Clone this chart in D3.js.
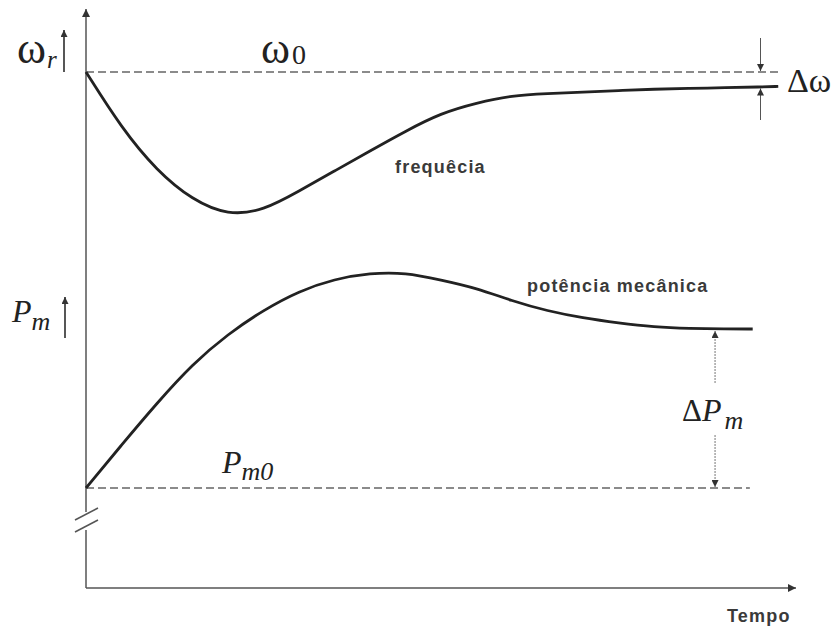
<!DOCTYPE html>
<html>
<head>
<meta charset="utf-8">
<script src="https://cdn.jsdelivr.net/npm/d3@7"></script>
<style>
  body { margin: 0; background: #fff; }
  .serif { font-family: "Liberation Serif", "DejaVu Serif", serif; fill: #222; }
  .lbl { font-family: "Liberation Sans", Arial, sans-serif; font-weight: bold; font-size: 18px; letter-spacing: 1.2px; fill: #3a3a3a; }
</style>
</head>
<body>
<div id="chart"></div>
<script>
// time samples (arbitrary units)
var freqTime = [0, 0.5, 1, 1.5, 2, 2.5, 3, 3.5, 4, 4.5, 5, 5.5, 6, 6.5, 7, 7.5, 8, 8.5, 9, 9.5, 9.75];
// rotor speed, per unit
var freqValues = [1.0, 0.9813, 0.967, 0.9573, 0.9522, 0.9538, 0.9603, 0.967, 0.9737, 0.9803, 0.9863,
  0.9897, 0.9922, 0.9928, 0.9933, 0.9938, 0.9943, 0.9945, 0.9948, 0.995, 0.9952];

var powerTime = [0, 0.5, 1, 1.5, 2, 2.5, 3, 3.5, 4, 4.5, 5, 5.5, 6, 6.5, 7, 7.5, 8, 8.5, 9, 9.39];
// mechanical power, per unit
var powerValues = [0.8, 0.843, 0.885, 0.924, 0.954, 0.978, 0.997, 1.009, 1.015, 1.0155, 1.008,
  1.0, 0.987, 0.977, 0.97, 0.965, 0.961, 0.9595, 0.959, 0.959];

var omega0 = 1.0;
var pm0 = 0.8;
var omegaEnd = 0.9952;
var pmEnd = 0.959;

var svgWidth = 831;
var svgHeight = 629;

var svg = d3.select("#chart")
  .append("svg")
  .attr("width", svgWidth)
  .attr("height", svgHeight);

svg.append("rect").attr("width", svgWidth).attr("height", svgHeight).attr("fill", "#fff");

// arrowhead markers
var defs = svg.append("defs");
defs.append("marker")
  .attr("id", "arr")
  .attr("viewBox", "0 0 10 10")
  .attr("refX", 10).attr("refY", 5)
  .attr("markerWidth", 13).attr("markerHeight", 8)
  .attr("markerUnits", "userSpaceOnUse")
  .attr("orient", "auto")
  .append("path")
  .attr("d", "M0,0 L10,5 L0,10 Z")
  .attr("fill", "#333");

defs.append("marker")
  .attr("id", "arrs")
  .attr("viewBox", "0 0 10 10")
  .attr("refX", 10).attr("refY", 5)
  .attr("markerWidth", 10).attr("markerHeight", 7)
  .attr("markerUnits", "userSpaceOnUse")
  .attr("orient", "auto")
  .append("path")
  .attr("d", "M0,0 L10,5 L0,10 Z")
  .attr("fill", "#333");

// scales
var x = d3.scaleLinear().domain([0, 10]).range([86, 796]);
var yOmega = d3.scaleLinear().domain([0.95, 1.0]).range([222, 72]);
var yPower = d3.scaleLinear().domain([0.8, 1.0]).range([488, 288]);
var axisY = 588;

// axes
svg.append("line")
  .attr("x1", x(0)).attr("y1", axisY).attr("x2", x(10)).attr("y2", axisY)
  .attr("stroke", "#555").attr("stroke-width", 1.5)
  .attr("marker-end", "url(#arr)");

svg.append("line")
  .attr("x1", x(0)).attr("y1", axisY).attr("x2", x(0)).attr("y2", 530)
  .attr("stroke", "#555").attr("stroke-width", 1.5);

svg.append("line")
  .attr("x1", x(0)).attr("y1", 512).attr("x2", x(0)).attr("y2", 9)
  .attr("stroke", "#555").attr("stroke-width", 1.5)
  .attr("marker-end", "url(#arr)");

// axis break marks
[0, 12].forEach(function(d) {
  svg.append("line")
    .attr("x1", 75).attr("y1", 520 + d).attr("x2", 98).attr("y2", 508 + d)
    .attr("stroke", "#555").attr("stroke-width", 1.5);
});

// reference lines
svg.append("line")
  .attr("x1", x(0)).attr("x2", x(9.75))
  .attr("y1", yOmega(omega0)).attr("y2", yOmega(omega0))
  .attr("stroke", "#666").attr("stroke-width", 1.6)
  .attr("stroke-dasharray", "8,4");

svg.append("line")
  .attr("x1", x(0)).attr("x2", x(9.35))
  .attr("y1", yPower(pm0)).attr("y2", yPower(pm0))
  .attr("stroke", "#666").attr("stroke-width", 1.6)
  .attr("stroke-dasharray", "8,4");

// curves
var freqLine = d3.line()
  .x(function(d, i) { return x(freqTime[i]); })
  .y(function(d) { return yOmega(d); })
  .curve(d3.curveBasis);

var powerLine = d3.line()
  .x(function(d, i) { return x(powerTime[i]); })
  .y(function(d) { return yPower(d); })
  .curve(d3.curveBasis);

svg.append("path")
  .attr("d", freqLine(freqValues))
  .attr("fill", "none").attr("stroke", "#222").attr("stroke-width", 2.8);

svg.append("path")
  .attr("d", powerLine(powerValues))
  .attr("fill", "none").attr("stroke", "#222").attr("stroke-width", 2.8);

// delta omega arrows
var dwX = x(9.5);
svg.append("line")
  .attr("x1", dwX).attr("x2", dwX).attr("y1", 38).attr("y2", yOmega(omega0) - 1)
  .attr("stroke", "#555").attr("stroke-width", 1)
  .attr("marker-end", "url(#arrs)");
svg.append("line")
  .attr("x1", dwX).attr("x2", dwX).attr("y1", 120).attr("y2", yOmega(omegaEnd) + 2)
  .attr("stroke", "#555").attr("stroke-width", 1)
  .attr("marker-end", "url(#arrs)");

// delta Pm arrows
var dpX = x(8.86);
svg.append("line")
  .attr("x1", dpX).attr("x2", dpX).attr("y1", 383).attr("y2", yPower(pmEnd) + 2)
  .attr("stroke", "#777").attr("stroke-width", 1).attr("stroke-dasharray", "2,1")
  .attr("marker-end", "url(#arrs)");
svg.append("line")
  .attr("x1", dpX).attr("x2", dpX).attr("y1", 435).attr("y2", yPower(pm0) - 1)
  .attr("stroke", "#777").attr("stroke-width", 1).attr("stroke-dasharray", "2,1")
  .attr("marker-end", "url(#arrs)");

// small label arrows
svg.append("line")
  .attr("x1", 64).attr("x2", 64).attr("y1", 72).attr("y2", 30)
  .attr("stroke", "#444").attr("stroke-width", 1.8)
  .attr("marker-end", "url(#arrs)");
svg.append("line")
  .attr("x1", 65).attr("x2", 65).attr("y1", 338).attr("y2", 297)
  .attr("stroke", "#444").attr("stroke-width", 1.8)
  .attr("marker-end", "url(#arrs)");

// serif math labels
function mathLabel(px, py, parts) {
  var t = svg.append("text").attr("class", "serif").attr("x", px).attr("y", py);
  parts.forEach(function(p) {
    t.append("tspan")
      .attr("font-size", p.size)
      .attr("font-style", p.italic ? "italic" : "normal")
      .attr("dx", p.dx || 0)
      .attr("dy", p.dy || 0)
      .text(p.text);
  });
}

mathLabel(17, 63, [{ text: "ω", size: 44 }, { text: "r", size: 25, italic: true, dx: 1, dy: 5 }]);
mathLabel(261, 63, [{ text: "ω", size: 44 }, { text: "0", size: 28, dx: 2, dy: 1 }]);
mathLabel(787, 92, [{ text: "Δω", size: 34 }]);
mathLabel(12, 322, [{ text: "P", size: 32, italic: true }, { text: "m", size: 26, italic: true, dy: 8 }]);
mathLabel(222, 473, [{ text: "P", size: 32, italic: true }, { text: "m0", size: 26, italic: true, dy: 7 }]);
mathLabel(682, 421, [{ text: "Δ", size: 31 }, { text: "P", size: 32, italic: true }, { text: "m", size: 26, italic: true, dx: 3, dy: 8 }]);

// curve labels
svg.append("text").attr("class", "lbl").attr("x", 395).attr("y", 173).text("frequêcia");
svg.append("text").attr("class", "lbl").attr("x", 527).attr("y", 292).text("potência mecânica");
svg.append("text").attr("class", "lbl").attr("x", 727).attr("y", 622).text("Tempo");
</script>
</body>
</html>
